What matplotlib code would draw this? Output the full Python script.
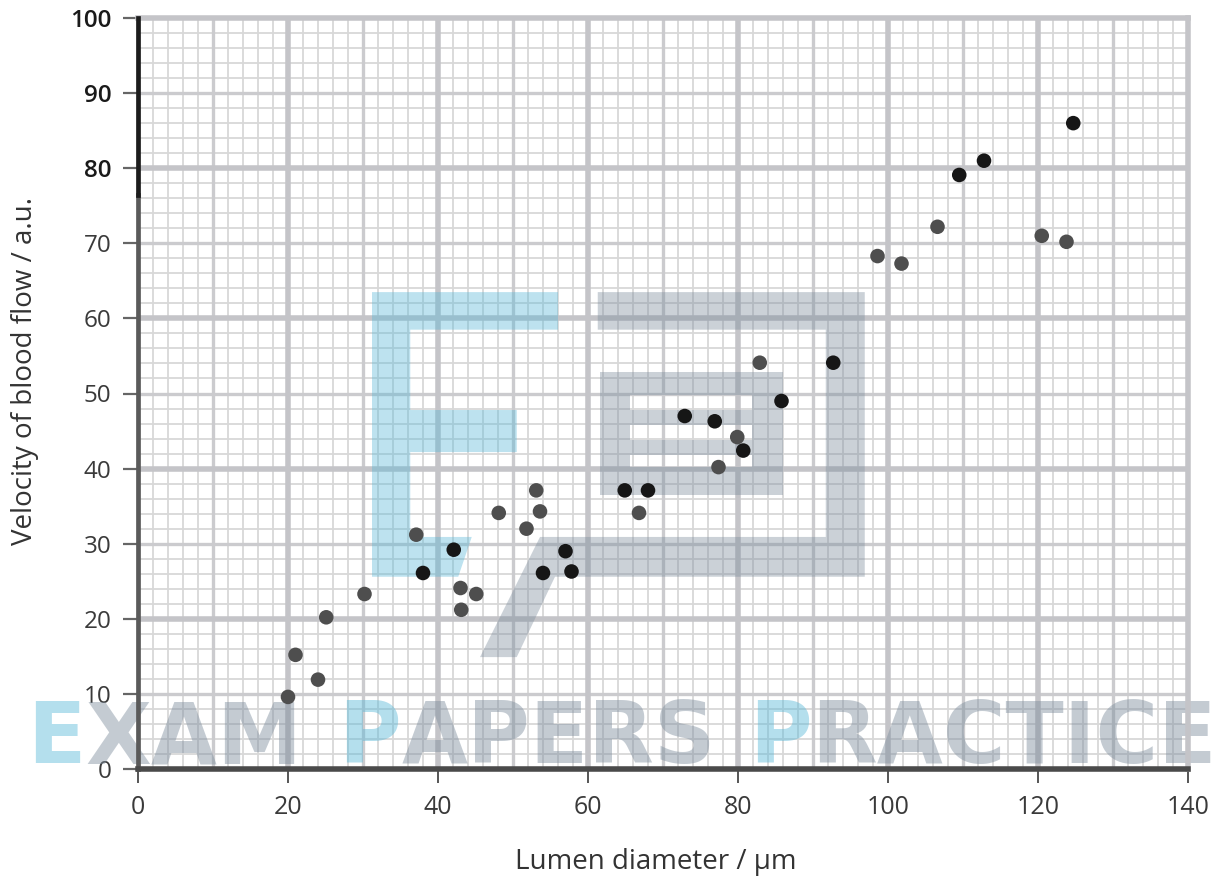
import numpy as np
import matplotlib
matplotlib.use("Agg")
import matplotlib.pyplot as plt
from matplotlib.patches import Polygon, Rectangle

# ---------------- data ----------------
black_x = [38.0, 42.1, 54.0, 57.0, 57.8, 64.9, 68.0, 72.9, 76.9, 80.7, 85.8, 92.7, 109.5, 112.8, 124.7]
black_y = [26.1, 29.2, 26.1, 29.0, 26.3, 37.1, 37.1, 47.0, 46.3, 42.4, 49.0, 54.1, 79.1, 81.0, 86.0]

grey_x = [20.0, 21.0, 24.0, 25.1, 30.2, 37.1, 43.0, 43.1, 45.1, 48.1, 51.8, 53.1, 53.6,
          66.8, 77.4, 79.9, 82.9, 98.6, 101.8, 106.6, 120.5, 123.8]
grey_y = [9.6, 15.2, 11.9, 20.2, 23.3, 31.2, 24.1, 21.2, 23.3, 34.1, 32.0, 37.1, 34.3,
          34.1, 40.2, 44.2, 54.1, 68.3, 67.3, 72.2, 71.0, 70.2]

x_ticks = [0, 20, 40, 60, 80, 100, 120, 140]
y_ticks = [0, 10, 20, 30, 40, 50, 60, 70, 80, 90, 100]
x_label = "Lumen diameter / µm"
y_label = "Velocity of blood flow / a.u."

FONT = ["Open Sans", "DejaVu Sans"]
plt.rcParams['font.family'] = FONT

fig = plt.figure(figsize=(12.22, 8.83), dpi=100)
ax = fig.add_axes([138 / 1222, 1 - 769 / 883, (1188 - 138) / 1222, (769 - 18) / 883])
ax.set_xlim(0, 140)
ax.set_ylim(0, 100)

# ---------------- graph paper grid ----------------
minor_c, mid_c, major_c = "#d8d8d8", "#cbcbce", "#c4c4c8"
for v in np.arange(2, 140, 2):
    if v % 20 == 0:
        ax.axvline(v, color=major_c, lw=4.0, zorder=0.3)
    elif v % 10 == 0:
        ax.axvline(v, color=mid_c, lw=2.4, zorder=0.2)
    else:
        ax.axvline(v, color=minor_c, lw=1.3, zorder=0.1)
for v in np.arange(2, 100, 2):
    if v % 20 == 0:
        ax.axhline(v, color=major_c, lw=4.0, zorder=0.3)
    elif v % 10 == 0:
        ax.axhline(v, color=mid_c, lw=2.4, zorder=0.2)
    else:
        ax.axhline(v, color=minor_c, lw=1.3, zorder=0.1)

# ---------------- watermark logo (decoration) ----------------
blue_wm = "#5ab8d8"
grey_wm = "#7d8d9d"
wm_alpha = 0.4
f_shape = [(31.2, 63.5), (56.0, 63.5), (56.0, 58.5), (36.3, 58.5), (36.3, 47.8),
           (50.5, 47.8), (50.5, 42.2), (36.3, 42.2), (36.3, 30.9), (44.5, 30.9),
           (42.7, 25.6), (31.2, 25.6)]
ax.add_patch(Polygon(f_shape, closed=True, facecolor=blue_wm, edgecolor="none",
                     alpha=wm_alpha, zorder=1))
frame = [(61.3, 63.5), (96.9, 63.5), (96.9, 25.6), (55.6, 25.6), (50.5, 14.9),
         (45.6, 14.9), (53.6, 30.9), (91.7, 30.9), (91.7, 58.5), (61.3, 58.5)]
ax.add_patch(Polygon(frame, closed=True, facecolor=grey_wm, edgecolor="none",
                     alpha=wm_alpha, zorder=1))
for (x0, x1, y0, y1) in [(61.6, 86.0, 49.8, 52.9), (61.6, 86.0, 36.5, 40.2),
                         (61.6, 65.6, 40.2, 49.8), (81.9, 86.0, 40.2, 49.8),
                         (65.6, 81.9, 45.8, 47.8), (65.6, 81.9, 41.8, 43.8)]:
    ax.add_patch(Rectangle((x0, y0), x1 - x0, y1 - y0, facecolor=grey_wm,
                           edgecolor="none", alpha=wm_alpha, zorder=1))

# watermark text
segments = [("E", blue_wm, 0), ("XAM", grey_wm, 0), ("P", blue_wm, 26), ("APERS", grey_wm, 0),
            ("P", blue_wm, 24), ("RACTICE", grey_wm, 0)]
prev = None
for s, c, gap in segments:
    kw = dict(fontsize=61.5, fontweight="bold", family=["DejaVu Sans"], color=c,
              alpha=wm_alpha + 0.05, zorder=2, annotation_clip=False, ha="left")
    if prev is None:
        prev = ax.annotate(s, xy=(27 / 1222, 1 - 763 / 883), xycoords=fig.transFigure,
                           va="baseline", **kw)
    else:
        prev = ax.annotate(s, xy=(1, 0), xycoords=prev, xytext=(gap, 0),
                           textcoords="offset points", va="bottom", **kw)

# ---------------- points ----------------
ax.scatter(grey_x, grey_y, s=110, color="#4e4e4e", edgecolors="none", zorder=5, clip_on=False)
ax.scatter(black_x, black_y, s=110, color="#161616", edgecolors="none", zorder=5, clip_on=False)

# ---------------- spines / axes ----------------
ax.spines['top'].set_color(major_c)
ax.spines['top'].set_linewidth(4.0)
ax.spines['right'].set_color(major_c)
ax.spines['right'].set_linewidth(4.0)
ax.spines['bottom'].set_color("#4a4a4a")
ax.spines['bottom'].set_linewidth(4.0)
ax.spines['bottom'].set_zorder(6)
ax.spines['left'].set_visible(False)
ax.axvline(0, ymin=0, ymax=0.764, color="#5a5a5a", lw=3.4, zorder=6, clip_on=False)
ax.axvline(0, ymin=0.764, ymax=1.0, color="#1c1c1c", lw=3.4, zorder=6, clip_on=False)

ax.set_xticks(x_ticks)
ax.set_yticks(y_ticks)
ax.set_xticklabels([str(v) for v in x_ticks])
ax.set_yticklabels([str(v) for v in y_ticks])
ax.tick_params(axis="y", direction="out", length=11, width=1.6, color="#666666",
               pad=8, labelsize=17.5, labelcolor="#3a3a3a")
ax.tick_params(axis="x", direction="out", length=10, width=1.4, color="#555555",
               pad=9, labelsize=18, labelcolor="#3a3a3a")
for lab in ax.get_yticklabels():
    if lab.get_text() in ("80", "90", "100"):
        lab.set_fontweight("semibold")
        lab.set_color("#1a1a1a")

fig.text(656 / 1222, 1 - 862 / 883, x_label, ha="center", va="center",
         fontsize=20, color="#333333")
fig.text(25 / 1222, 1 - 371 / 883, y_label, ha="center", va="center",
         rotation=90, fontsize=20, color="#333333")

fig.savefig("out.png", dpi=100)
